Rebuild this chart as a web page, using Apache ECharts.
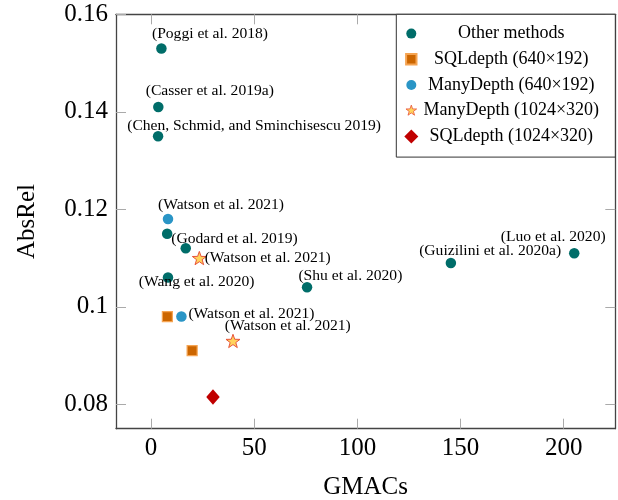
<!DOCTYPE html>
<html>
<head>
<meta charset="utf-8">
<script src="https://cdn.jsdelivr.net/npm/echarts@6/dist/echarts.min.js"></script>
<style>html,body{margin:0;padding:0;background:#fff}#c{width:618px;height:500px}</style>
</head>
<body>
<div id="c"></div>
<script>
// ---- data ----
const otherX = [5, 3.5, 3.4, 7.8, 16.8, 8.2, 75.6, 145.3, 205.1];
const otherY = [0.153, 0.141, 0.135, 0.115, 0.112, 0.106, 0.104, 0.109, 0.111];
const otherLabels = ['(Poggi et al. 2018)', '(Casser et al. 2019a)', '(Chen, Schmid, and Sminchisescu 2019)', '',
  '(Godard et al. 2019)', '(Wang et al. 2020)', '(Shu et al. 2020)', '(Guizilini et al. 2020a)', '(Luo et al. 2020)'];
const sql640X = [7.9, 19.9];
const sql640Y = [0.098, 0.091];
const many640X = [8.2, 14.7];
const many640Y = [0.118, 0.098];
const many640Labels = ['(Watson et al. 2021)', '(Watson et al. 2021)'];
const many1024X = [23.4, 39.7];
const many1024Y = [0.110, 0.093];
const many1024Labels = ['(Watson et al. 2021)', '(Watson et al. 2021)'];
const sql1024X = [30];
const sql1024Y = [0.0815];
const seriesNames = ['Other methods', 'SQLdepth (640\u00d7192)', 'ManyDepth (640\u00d7192)', 'ManyDepth (1024\u00d7320)', 'SQLdepth (1024\u00d7320)'];
const xTicks = [0, 50, 100, 150, 200];
const yTicks = [0.08, 0.1, 0.12, 0.14, 0.16];

// ---- layout (label placement relative to points, in px) ----
const otherLabelPos = [[48.6, -15, 'center'], [51.5, -16, 'center'], [96, -10, 'center'], null,
  [48.7, -9.4, 'center'], [28.6, 4.3, 'center'], [43.3, -11.7, 'center'], [39.3, -12.3, 'center'], [-21, -16.6, 'center']];
const many640LabelPos = [[53, -14, 'center'], [7, -2.7, 'left']];
const many1024LabelPos = [[5.3, 0, 'left'], [54.8, -15, 'center']];

const FONT = '"Liberation Serif", "DejaVu Serif", serif';

function pts(xs, ys, labels, pos) {
  return xs.map((x, i) => {
    const item = { value: [x, ys[i]] };
    if (labels && labels[i] && pos[i]) {
      item.name = labels[i];
      item.label = {
        show: true, position: 'inside', formatter: labels[i],
        offset: [pos[i][0], pos[i][1]], align: pos[i][2], verticalAlign: 'middle',
        fontFamily: FONT, fontSize: 15.6, color: '#000'
      };
    }
    return item;
  });
}

const starShape = 'M0,-10 L2.351,-3.236 L9.511,-3.09 L3.804,1.236 L5.878,8.09 L0,4 L-5.878,8.09 L-3.804,1.236 L-9.511,-3.09 L-2.351,-3.236 Z';
const starPath = 'path://' + starShape;
// legend icons with invisible margins so that they draw smaller inside the 14px icon box
const legendCircle = 'path://M-7,-7 M7,7 M0,-5 A5,5 0 1 1 0,5 A5,5 0 1 1 0,-5 Z';
const legendSquare = 'path://M-7,-7 M7,7 M-5.2,-5.2 L5.2,-5.2 L5.2,5.2 L-5.2,5.2 Z';
const legendStar = 'path://M-12.5,-12.5 M12.5,12.5 ' + starShape;

const axisLineStyle = { color: '#444', width: 1.3 };
const tickStyle = { color: '#aaa', width: 1 };

const chart = echarts.init(document.getElementById('c'), null, { renderer: 'canvas' });
chart.setOption({
  animation: false,
  backgroundColor: '#fff',
  grid: { left: 116, top: 14.3, right: 2.7, bottom: 71.3, containLabel: false, outerBoundsMode: 'none' },
  xAxis: [{
    type: 'value', min: -17, max: 225, position: 'bottom',
    axisLine: { show: true, onZero: false, lineStyle: axisLineStyle },
    axisTick: { show: true, inside: true, length: 10, customValues: xTicks, lineStyle: tickStyle },
    axisLabel: { customValues: xTicks, fontFamily: FONT, fontSize: 25, color: '#000', margin: 7 },
    splitLine: { show: false },
    name: 'GMACs', nameLocation: 'middle', nameGap: 46,
    nameTextStyle: { fontFamily: FONT, fontSize: 25, color: '#000' }
  }, {
    type: 'value', min: -17, max: 225, position: 'top',
    axisLine: { show: true, onZero: false, lineStyle: axisLineStyle },
    axisTick: { show: true, inside: true, length: 10, customValues: xTicks, lineStyle: tickStyle },
    axisLabel: { show: false }, splitLine: { show: false }
  }],
  yAxis: [{
    type: 'value', min: 0.075, max: 0.16, position: 'left',
    axisLine: { show: true, onZero: false, lineStyle: axisLineStyle },
    axisTick: { show: true, inside: true, length: 10, customValues: yTicks, lineStyle: tickStyle },
    axisLabel: { customValues: yTicks, fontFamily: FONT, fontSize: 25, color: '#000', margin: 8,
      formatter: v => String(parseFloat(v.toFixed(4))) },
    splitLine: { show: false },
    name: 'AbsRel', nameLocation: 'middle', nameGap: 76,
    nameTextStyle: { fontFamily: FONT, fontSize: 25, color: '#000' }
  }, {
    type: 'value', min: 0.075, max: 0.16, position: 'right',
    axisLine: { show: true, onZero: false, lineStyle: axisLineStyle },
    axisTick: { show: true, inside: true, length: 10, customValues: yTicks, lineStyle: tickStyle },
    axisLabel: { show: false }, splitLine: { show: false }
  }],
  legend: {
    orient: 'vertical', right: 2.7, top: 14.3,
    backgroundColor: '#fff', borderColor: '#333', borderWidth: 1, borderRadius: 0,
    padding: [10.3, 16, 11.7, 7], itemGap: 7.7, itemWidth: 14, itemHeight: 14,
    data: [
      { name: seriesNames[0], icon: legendCircle },
      { name: seriesNames[1], icon: legendSquare },
      { name: seriesNames[2], icon: legendCircle },
      { name: seriesNames[3], icon: legendStar, itemStyle: { borderWidth: 0.8 } },
      { name: seriesNames[4] }
    ],
    formatter: n => '{t|' + n + '}',
    textStyle: { rich: { t: { width: 176, align: 'center', fontFamily: FONT, fontSize: 18, lineHeight: 20, color: '#000' } } }
  },
  series: [{
    name: seriesNames[0], type: 'scatter', symbol: 'circle', symbolSize: 10.5,
    itemStyle: { color: '#006d69', opacity: 1 },
    data: pts(otherX, otherY, otherLabels, otherLabelPos), z: 3
  }, {
    name: seriesNames[1], type: 'scatter', symbol: 'rect', symbolSize: 10,
    itemStyle: { color: '#cc6600', borderColor: '#f5a452', borderWidth: 1.2, opacity: 1 },
    data: pts(sql640X, sql640Y), z: 3
  }, {
    name: seriesNames[2], type: 'scatter', symbol: 'circle', symbolSize: 10.5,
    itemStyle: { color: '#2a95c6', opacity: 1 },
    data: pts(many640X, many640Y, many640Labels, many640LabelPos), z: 3
  }, {
    name: seriesNames[3], type: 'scatter', symbol: starPath, symbolSize: 14, symbolKeepAspect: true,
    itemStyle: { color: '#ffd35c', borderColor: '#e8533a', borderWidth: 1, opacity: 1 },
    data: pts(many1024X, many1024Y, many1024Labels, many1024LabelPos), z: 3
  }, {
    name: seriesNames[4], type: 'scatter', symbol: 'diamond', symbolSize: [13.5, 15.5],
    itemStyle: { color: '#c00000', opacity: 1 },
    data: pts(sql1024X, sql1024Y), z: 3
  }]
});
</script>
</body>
</html>
